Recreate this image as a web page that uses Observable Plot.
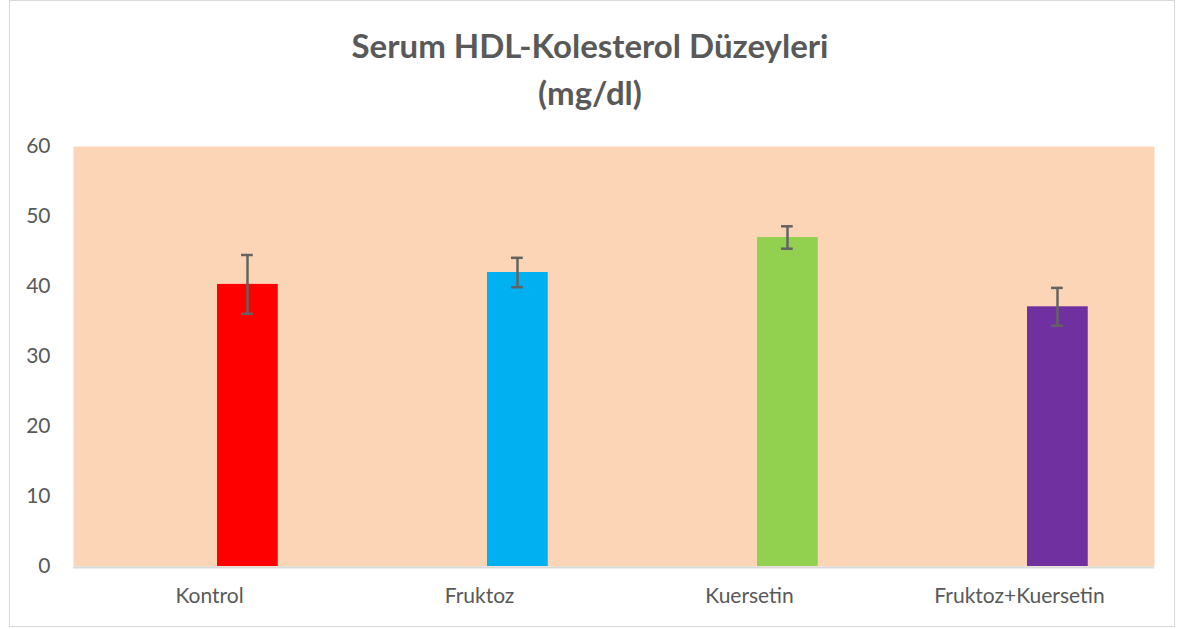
<!DOCTYPE html>
<html>
<head>
<meta charset="utf-8">
<script src="https://cdn.jsdelivr.net/npm/d3@7"></script>
<script src="https://cdn.jsdelivr.net/npm/@observablehq/plot@0.6"></script>
<style>
  html, body { margin: 0; padding: 0; background: #fff; }
  #frame { position: absolute; left: 9px; top: 0px; width: 1166px; height: 627px; border: 1px solid #d9d9d9; box-sizing: border-box; }
  #wrap { position: absolute; left: 0; top: 0; width: 1180px; }
  #title { height: 120px; box-sizing: border-box; padding-top: 22px; text-align: center; font-family: Lato, "Open Sans", sans-serif; font-weight: bold; font-size: 33px; line-height: 47px; color: #595959; }
  #chart svg { display: block; }
</style>
</head>
<body>
<div id="frame"></div>
<div id="wrap">
  <div id="title">Serum HDL-Kolesterol Düzeyleri<br>(mg/dl)</div>
  <div id="chart"></div>
</div>
<script>
const categories = ["Kontrol", "Fruktoz", "Kuersetin", "Fruktoz+Kuersetin"];
const means = [40.3, 42.0, 47.0, 37.1];
const errors = [4.2, 2.1, 1.6, 2.7];
const colors = ["#ff0000", "#00b0f0", "#92d050", "#7030a0"];
const yTicks = [0, 10, 20, 30, 40, 50, 60];

const data = categories.map((c, i) => ({cat: c, mean: means[i], lo: means[i] - errors[i], hi: means[i] + errors[i], color: colors[i]}));

const band = (1180 - 73 - 26) / 4;
const chart = Plot.plot({
  width: 1180,
  height: 509,
  marginTop: 26,
  marginBottom: 63,
  marginLeft: 73,
  marginRight: 26,
  style: {fontFamily: "Lato, 'Open Sans', sans-serif", fontSize: "21px", color: "#595959", background: "transparent"},
  x: {domain: categories, padding: 0, label: null, tickSize: 0, tickPadding: 22},
  y: {domain: [0, 60], ticks: yTicks, label: null, tickSize: 0, tickPadding: 23},
  marks: [
    Plot.frame({fill: "#fbd5b5", stroke: null}),
    Plot.barY(data, {x: "cat", y: "mean", fill: "color", insetLeft: 143, insetRight: band - 204}),
    Plot.ruleY([0], {stroke: "#d9d9d9", strokeWidth: 2, dy: 1}),
    Plot.ruleX(data, {x: "cat", y1: "lo", y2: "hi", stroke: "#636363", strokeWidth: 2.5, dx: 38}),
    Plot.tickY(data, {x: "cat", y: "hi", stroke: "#636363", strokeWidth: 2.5, insetLeft: 167, insetRight: band - 179}),
    Plot.tickY(data, {x: "cat", y: "lo", stroke: "#636363", strokeWidth: 2.5, insetLeft: 167, insetRight: band - 179})
  ]
});
document.getElementById("chart").appendChild(chart);
</script>
</body>
</html>
